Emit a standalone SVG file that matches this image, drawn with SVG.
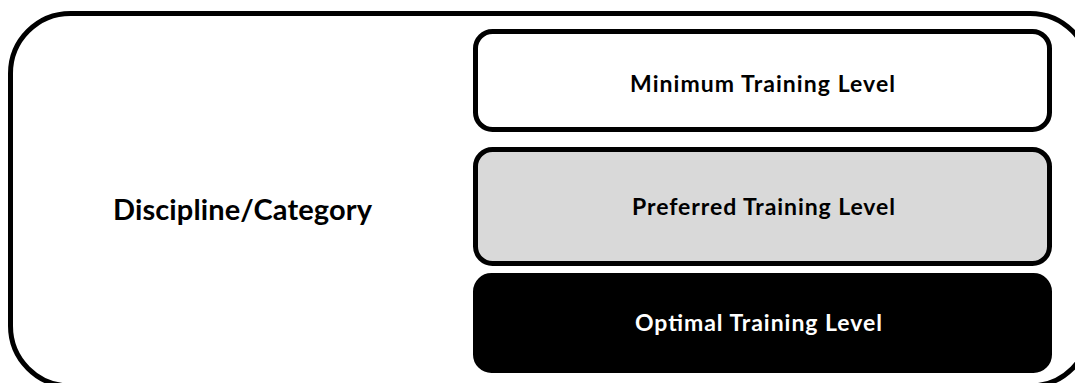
<svg xmlns="http://www.w3.org/2000/svg" width="1075" height="383" viewBox="0 0 1075 383">
<style>
.box{stroke:#000;stroke-width:5}
.t{font-family:Lato,"Liberation Sans",sans-serif;font-weight:bold;text-anchor:middle}
</style>
<rect width="1075" height="383" fill="#fff"/>
<g id="category">
<rect class="box" x="10.5" y="13.5" width="1079.5" height="372.5" rx="60" fill="#fff"/>
<text class="t" x="242.5" y="220" font-size="29" textLength="259">Discipline/Category</text>
</g>
<g id="minimum">
<rect class="box" x="475.5" y="31.5" width="574" height="98" rx="17" fill="#fff"/>
<text class="t" x="762.5" y="91.5" font-size="23" textLength="265">Minimum Training Level</text>
</g>
<g id="preferred">
<rect class="box" x="475.5" y="149.5" width="574" height="114" rx="17" fill="#d9d9d9"/>
<text class="t" x="763.5" y="215" font-size="23" textLength="263">Preferred Training Level</text>
</g>
<g id="optimal">
<rect class="box" x="475.5" y="275.5" width="574" height="95" rx="16" fill="#000"/>
<text class="t" x="758.5" y="331" font-size="23" textLength="247" fill="#fff">Optimal Training Level</text>
</g>
<g id="connectors"/>
</svg>
